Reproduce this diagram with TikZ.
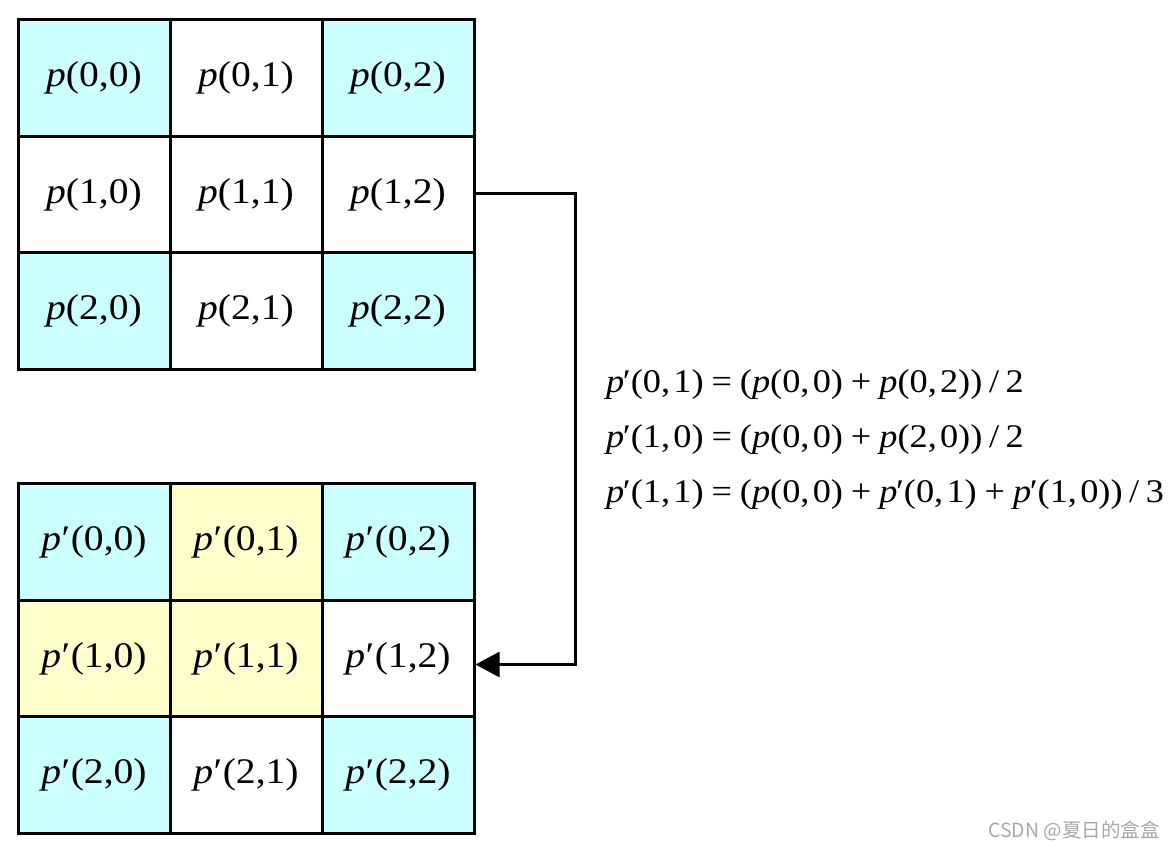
\documentclass[tikz,border=0pt]{standalone}
\usepackage{fontspec}
\setmainfont{Liberation Serif}[FakeStretch=1.1]
\newfontfamily\cjk{Noto Sans CJK SC}
\usetikzlibrary{arrows.meta,calc}
\definecolor{cyanc}{HTML}{CCFFFF}
\definecolor{yelc}{HTML}{FFFFCC}
\definecolor{wmgray}{HTML}{A8A8A8}
\newcommand{\pp}{\textit{p}}
\newcommand{\pq}{\textit{p}\kern0.5pt\char"2032\kern0.5pt}
\newcommand{\pqe}{\textit{p}\kern-1.5pt\char"2032}
\newcommand{\opgap}{\hspace{0.24em}}
\newcommand{\slgap}{\hspace{0.2em}}
\newcommand{\cm}{,\hspace{0.1em}}
\tikzset{
  cell/.style={draw=black, line width=3pt, minimum width=152pt, minimum height=116.5pt,
    inner sep=0pt, font=\fontsize{36}{40}\selectfont},
  cy/.style={fill=cyanc},
  yl/.style={fill=yelc},
  wh/.style={fill=white},
  eq/.style={anchor=west, inner sep=0pt, font=\fontsize{33}{38}\selectfont},
  conn/.style={draw=black, line width=3pt, -{Triangle[length=24pt,width=25pt]}},
}
\begin{document}
\begin{tikzpicture}[x=1pt,y=-1pt]
\useasboundingbox (0,0) rectangle (1174,849);
% top grid
\node[cell,cy] (a00) at (94,78) {\pp(0,0)};
\node[cell,wh] (a01) at (246,78) {\pp(0,1)};
\node[cell,cy] (a02) at (398,78) {\pp(0,2)};
\node[cell,wh] (a10) at (94,194.5) {\pp(1,0)};
\node[cell,wh] (a11) at (246,194.5) {\pp(1,1)};
\node[cell,wh] (a12) at (398,194.5) {\pp(1,2)};
\node[cell,cy] (a20) at (94,311) {\pp(2,0)};
\node[cell,wh] (a21) at (246,311) {\pp(2,1)};
\node[cell,cy] (a22) at (398,311) {\pp(2,2)};
% bottom grid
\node[cell,cy] (b00) at (94,542) {\pq(0,0)};
\node[cell,yl] (b01) at (246,542) {\pq(0,1)};
\node[cell,cy] (b02) at (398,542) {\pq(0,2)};
\node[cell,yl] (b10) at (94,658.5) {\pq(1,0)};
\node[cell,yl] (b11) at (246,658.5) {\pq(1,1)};
\node[cell,wh] (b12) at (398,658.5) {\pq(1,2)};
\node[cell,cy] (b20) at (94,775) {\pq(2,0)};
\node[cell,wh] (b21) at (246,775) {\pq(2,1)};
\node[cell,cy] (b22) at (398,775) {\pq(2,2)};
% connector
\coordinate (turn) at (575,193);
\draw[conn] ([yshift=1.5pt]a12.east) -- (turn) |- ([yshift=-6pt]b12.east);
% equations
\node[eq] (e1) at (606,385) {\pqe(0\cm1)\opgap=\opgap(\pp(0\cm0)\opgap+\opgap\pp(0\cm2))\slgap/\slgap2};
\node[eq] (e2) at (606,440) {\pqe(1\cm0)\opgap=\opgap(\pp(0\cm0)\opgap+\opgap\pp(2\cm0))\slgap/\slgap2};
\node[eq] (e3) at (606,495) {\pqe(1\cm1)\opgap=\opgap(\pp(0\cm0)\opgap+\opgap\pqe(0\cm1)\opgap+\opgap\pqe(1\cm0))\slgap/\slgap3};
% watermark
\node[anchor=east, inner sep=0pt, text=wmgray, font=\cjk\fontsize{19.5}{22}\selectfont] (wm) at (1160,831) {CSDN @夏日的盒盒};
\end{tikzpicture}
\end{document}
